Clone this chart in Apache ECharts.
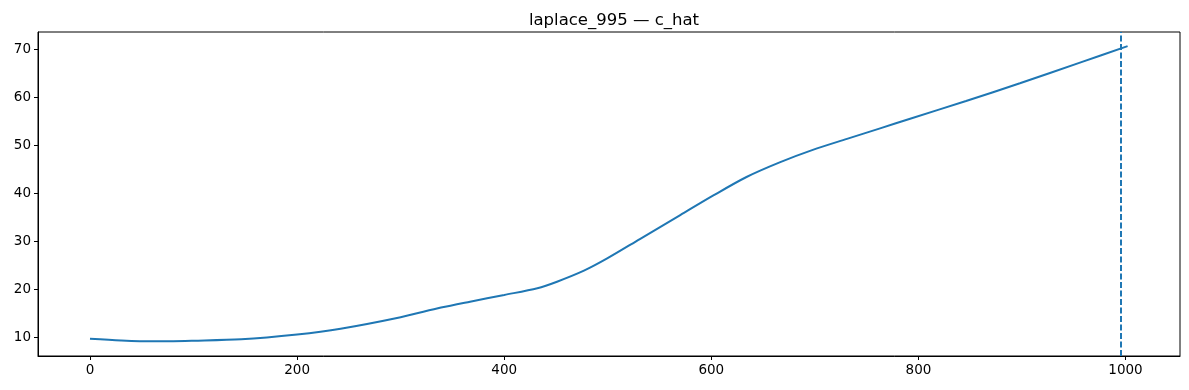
<!DOCTYPE html>
<html>
<head>
<meta charset="utf-8">
<script src="https://cdn.jsdelivr.net/npm/echarts@6/dist/echarts.min.js"></script>
<style>
  html, body { margin: 0; padding: 0; background: #fff; }
  #chart { width: 1189px; height: 390px; }
</style>
</head>
<body>
<div id="chart"></div>
<script>
// values
var steps = [0, 30, 60, 100, 146, 200, 242, 300, 339, 367, 400, 432, 451, 477, 499, 531, 570, 602, 634, 666, 698, 731, 763, 792, 846, 898, 956, 1002];
var cHat = [9.7, 9.35, 9.16, 9.3, 9.58, 10.6, 11.8, 14.2, 16.2, 17.44, 18.84, 20.24, 21.6, 23.9, 26.4, 30.5, 35.5, 39.6, 43.45, 46.5, 49.1, 51.4, 53.6, 55.6, 59.3, 63.0, 67.3, 70.75];
var xTicks = [0, 200, 400, 600, 800, 1000];
var yTicks = [10, 20, 30, 40, 50, 60, 70];
var marker = 995;

var blue = '#1f77b4';
var font = 'DejaVu Sans';

var points = steps.map(function (s, i) { return [s, cHat[i]]; });

var chart = echarts.init(document.getElementById('chart'));
chart.setOption({
    animation: false,
    title: {
        text: 'laplace_995 \u2014 c_hat',
        left: 609,
        textAlign: 'center',
        top: 7,
        textStyle: { fontFamily: font, fontSize: 16.5, fontWeight: 'normal', color: '#000' }
    },
    grid: {
        left: 38, right: 9, top: 32, bottom: 34,
        show: true, borderColor: '#000', borderWidth: 1, backgroundColor: '#fff'
    },
    xAxis: {
        type: 'value',
        min: -50.2,
        max: 1052.6,
        splitLine: { show: false },
        axisLine: { show: true, onZero: false, lineStyle: { color: '#000', width: 1 } },
        axisTick: { show: true, length: 4, customValues: xTicks, lineStyle: { color: '#000' } },
        axisLabel: {
            margin: 7, customValues: xTicks, fontFamily: font, fontSize: 13.5, color: '#000',
            formatter: function (v) { return String(v); }
        }
    },
    yAxis: {
        type: 'value',
        min: 6.1,
        max: 73.7,
        splitLine: { show: false },
        axisLine: { show: true, onZero: false, lineStyle: { color: '#000', width: 1 } },
        axisTick: { show: true, length: 4, customValues: yTicks, lineStyle: { color: '#000' } },
        axisLabel: { margin: 7, customValues: yTicks, fontFamily: font, fontSize: 13.5, color: '#000' }
    },
    series: [{
        type: 'line',
        data: points,
        smooth: 0.3,
        showSymbol: false,
        lineStyle: { color: blue, width: 2 },
        markLine: {
            silent: true,
            symbol: 'none',
            label: { show: false },
            lineStyle: { color: blue, width: 2, type: [6, 2.5] },
            data: [{ xAxis: marker }]
        }
    }]
});
</script>
</body>
</html>
